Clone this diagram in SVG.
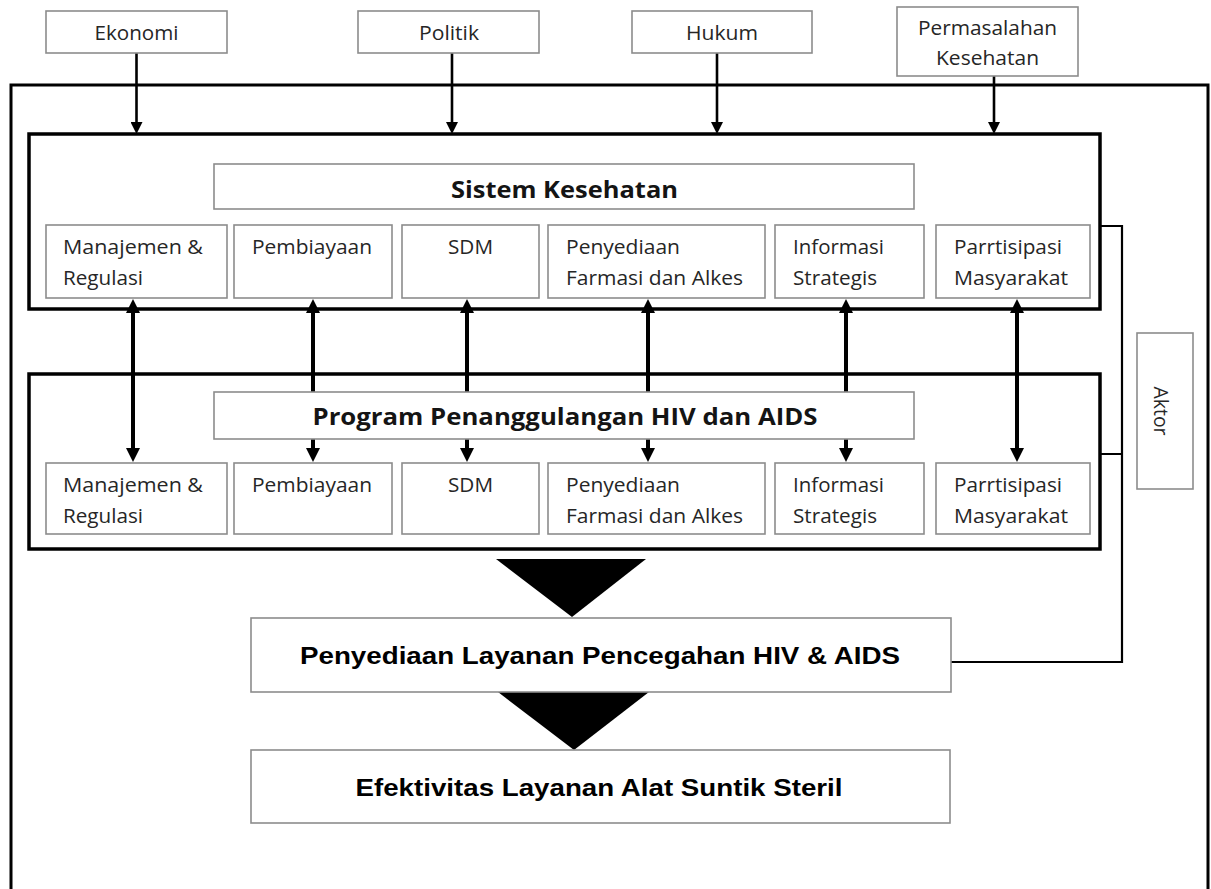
<svg xmlns="http://www.w3.org/2000/svg" width="1211" height="889" viewBox="0 0 1211 889">
<defs>
<marker id="ah" markerUnits="userSpaceOnUse" viewBox="0 0 12 12" refX="4" refY="6" markerWidth="12" markerHeight="12" orient="auto-start-reverse"><path d="M0,0 L12,6 L0,12 z" fill="#000"/></marker>
<marker id="ah2" markerUnits="userSpaceOnUse" viewBox="0 0 14 14" refX="5" refY="7" markerWidth="14" markerHeight="14" orient="auto-start-reverse"><path d="M0,0 L14,7 L0,14 z" fill="#000"/></marker>
</defs>
<style>
.box{fill:#fff;stroke:#8c8c8c;stroke-width:1.6}
.frame{fill:none;stroke:#000;stroke-width:3.5}
.lbl{font-family:"Open Sans","Noto Sans",sans-serif;font-size:20px;fill:#262626}
.ttl{font-family:"Open Sans","Noto Sans",sans-serif;font-weight:bold;font-size:23px;fill:#141414}
.big{font-family:"Liberation Sans",Arial,sans-serif;font-weight:bold;font-size:23px;fill:#000}
.c{stroke:#000;fill:none}
.tri{fill:#000}
</style>
<rect width="1211" height="889" fill="#fff"/>

<g id="connectors">
<path class="c" d="M11,889 V85 H1208 V889" stroke-width="3"/>
<g stroke-width="2.6">
<line class="c" x1="136.5" y1="53" x2="136.5" y2="126" marker-end="url(#ah)"/>
<line class="c" x1="452" y1="53" x2="452" y2="126" marker-end="url(#ah)"/>
<line class="c" x1="717" y1="53" x2="717" y2="126" marker-end="url(#ah)"/>
<line class="c" x1="994" y1="76" x2="994" y2="126" marker-end="url(#ah)"/>
</g>
<g stroke-width="4">
<line class="c" x1="133" y1="308" x2="133" y2="453" marker-start="url(#ah2)" marker-end="url(#ah2)"/>
<line class="c" x1="313" y1="308" x2="313" y2="453" marker-start="url(#ah2)" marker-end="url(#ah2)"/>
<line class="c" x1="467" y1="308" x2="467" y2="453" marker-start="url(#ah2)" marker-end="url(#ah2)"/>
<line class="c" x1="648" y1="308" x2="648" y2="453" marker-start="url(#ah2)" marker-end="url(#ah2)"/>
<line class="c" x1="846" y1="308" x2="846" y2="453" marker-start="url(#ah2)" marker-end="url(#ah2)"/>
<line class="c" x1="1017" y1="308" x2="1017" y2="453" marker-start="url(#ah2)" marker-end="url(#ah2)"/>
</g>
<path class="c" d="M1100,226 H1122 V662 H951 M1100,454 H1122" stroke-width="2.2"/>
<polygon class="tri" points="496,559 646,559 572,617"/>
<polygon class="tri" points="498,692 649,692 574,750"/>
</g>

<g id="ekonomi"><rect class="box" x="46" y="11" width="181" height="42"/><text class="lbl" x="136.5" y="40" text-anchor="middle" textLength="84" lengthAdjust="spacingAndGlyphs">Ekonomi</text></g>
<g id="politik"><rect class="box" x="358" y="11" width="181" height="42"/><text class="lbl" x="449" y="40" text-anchor="middle" textLength="60" lengthAdjust="spacingAndGlyphs">Politik</text></g>
<g id="hukum"><rect class="box" x="632" y="11" width="180" height="42"/><text class="lbl" x="722" y="40" text-anchor="middle" textLength="72" lengthAdjust="spacingAndGlyphs">Hukum</text></g>
<g id="permasalahan"><rect class="box" x="897" y="7" width="181" height="69"/><text class="lbl" x="987.5" y="35" text-anchor="middle" textLength="139" lengthAdjust="spacingAndGlyphs">Permasalahan</text><text class="lbl" x="987.5" y="65" text-anchor="middle" textLength="103" lengthAdjust="spacingAndGlyphs">Kesehatan</text></g>

<g id="sistem-kesehatan">
<rect class="frame" x="29" y="134" width="1071" height="175"/>
<rect class="box" x="214" y="164" width="700" height="45"/>
<text class="ttl" x="564.5" y="198" text-anchor="middle" textLength="227" lengthAdjust="spacingAndGlyphs">Sistem Kesehatan</text>
</g>
<g id="sk-manajemen"><rect class="box" x="46" y="225" width="181" height="73"/><text class="lbl" x="63" y="254" textLength="140" lengthAdjust="spacingAndGlyphs">Manajemen &amp;</text><text class="lbl" x="63" y="285" textLength="80" lengthAdjust="spacingAndGlyphs">Regulasi</text></g>
<g id="sk-pembiayaan"><rect class="box" x="234" y="225" width="158" height="73"/><text class="lbl" x="252" y="254" textLength="120" lengthAdjust="spacingAndGlyphs">Pembiayaan</text></g>
<g id="sk-sdm"><rect class="box" x="402" y="225" width="137" height="73"/><text class="lbl" x="448" y="254" textLength="45" lengthAdjust="spacingAndGlyphs">SDM</text></g>
<g id="sk-farmasi"><rect class="box" x="548" y="225" width="217" height="73"/><text class="lbl" x="566" y="254" textLength="114" lengthAdjust="spacingAndGlyphs">Penyediaan</text><text class="lbl" x="566" y="285" textLength="177" lengthAdjust="spacingAndGlyphs">Farmasi dan Alkes</text></g>
<g id="sk-informasi"><rect class="box" x="775" y="225" width="149" height="73"/><text class="lbl" x="793" y="254" textLength="91" lengthAdjust="spacingAndGlyphs">Informasi</text><text class="lbl" x="793" y="285" textLength="84" lengthAdjust="spacingAndGlyphs">Strategis</text></g>
<g id="sk-partisipasi"><rect class="box" x="936" y="225" width="154" height="73"/><text class="lbl" x="954" y="254" textLength="108" lengthAdjust="spacingAndGlyphs">Parrtisipasi</text><text class="lbl" x="954" y="285" textLength="114" lengthAdjust="spacingAndGlyphs">Masyarakat</text></g>

<g id="program-hiv">
<rect class="frame" x="29" y="374" width="1071" height="175"/>
<rect class="box" x="214" y="392" width="700" height="47"/>
<text class="ttl" x="565" y="425" text-anchor="middle" textLength="505" lengthAdjust="spacingAndGlyphs">Program Penanggulangan HIV dan AIDS</text>
</g>
<g id="p-manajemen"><rect class="box" x="46" y="463" width="181" height="71"/><text class="lbl" x="63" y="492" textLength="140" lengthAdjust="spacingAndGlyphs">Manajemen &amp;</text><text class="lbl" x="63" y="523" textLength="80" lengthAdjust="spacingAndGlyphs">Regulasi</text></g>
<g id="p-pembiayaan"><rect class="box" x="234" y="463" width="158" height="71"/><text class="lbl" x="252" y="492" textLength="120" lengthAdjust="spacingAndGlyphs">Pembiayaan</text></g>
<g id="p-sdm"><rect class="box" x="402" y="463" width="137" height="71"/><text class="lbl" x="448" y="492" textLength="45" lengthAdjust="spacingAndGlyphs">SDM</text></g>
<g id="p-farmasi"><rect class="box" x="548" y="463" width="217" height="71"/><text class="lbl" x="566" y="492" textLength="114" lengthAdjust="spacingAndGlyphs">Penyediaan</text><text class="lbl" x="566" y="523" textLength="177" lengthAdjust="spacingAndGlyphs">Farmasi dan Alkes</text></g>
<g id="p-informasi"><rect class="box" x="775" y="463" width="149" height="71"/><text class="lbl" x="793" y="492" textLength="91" lengthAdjust="spacingAndGlyphs">Informasi</text><text class="lbl" x="793" y="523" textLength="84" lengthAdjust="spacingAndGlyphs">Strategis</text></g>
<g id="p-partisipasi"><rect class="box" x="936" y="463" width="154" height="71"/><text class="lbl" x="954" y="492" textLength="108" lengthAdjust="spacingAndGlyphs">Parrtisipasi</text><text class="lbl" x="954" y="523" textLength="114" lengthAdjust="spacingAndGlyphs">Masyarakat</text></g>

<g id="aktor"><rect class="box" x="1137" y="333" width="56" height="156"/><text class="lbl" transform="translate(1154,411) rotate(90)" text-anchor="middle" textLength="49" lengthAdjust="spacingAndGlyphs">Aktor</text></g>

<g id="layanan-pencegahan"><rect class="box" x="251" y="618" width="700" height="74"/><text class="big" x="600" y="664" text-anchor="middle" textLength="600" lengthAdjust="spacingAndGlyphs">Penyediaan Layanan Pencegahan HIV &amp; AIDS</text></g>
<g id="efektivitas"><rect class="box" x="251" y="750" width="699" height="73"/><text class="big" x="599" y="796" text-anchor="middle" textLength="487" lengthAdjust="spacingAndGlyphs">Efektivitas Layanan Alat Suntik Steril</text></g>
</svg>
